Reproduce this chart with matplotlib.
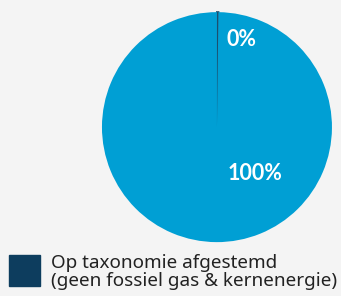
import matplotlib.pyplot as plt
from matplotlib.patches import Rectangle
import numpy as np

categories = ["Op taxonomie afgestemd (geen fossiel gas & kernenergie)", "Niet op taxonomie afgestemd"]
values = [0.2, 99.8]
colors = ["#0d3d5e", "#009fd4"]
legend_label = "Op taxonomie afgestemd\n(geen fossiel gas & kernenergie)"
bg = "#f4f4f4"

fig = plt.figure(figsize=(3.41, 2.96), dpi=100, facecolor=bg)
ax = fig.add_axes([0.299, 0.182, 0.6745, 0.777])
ax.set_facecolor(bg)

wedges, _ = ax.pie(values, colors=colors, startangle=90, counterclock=False,
                   radius=1.0, wedgeprops=dict(linewidth=0))
wedges[0].set_edgecolor("#1d4f6e")
wedges[0].set_linewidth(1.4)
ax.set_xlim(-1, 1)
ax.set_ylim(-1, 1)
ax.set_aspect("equal")
ax.axis("off")

# value labels
label_pos = [(0.21, 0.76), (0.33, -0.40)]
for v, (x, y) in zip(values, label_pos):
    ax.text(x, y, f"{round(v):.0f}%", color="white", fontsize=15.5, fontweight="bold",
            family="Lato", ha="center", va="center")

# legend
fig.patches.append(Rectangle((9 / 341, 1 - 286 / 296), 31 / 341, 31 / 296,
                             transform=fig.transFigure, color=colors[0]))
fig.text(51 / 341, 1 - 272 / 296, legend_label, fontsize=13.6, family="Noto Sans",
         color="#222222", ha="left", va="center", linespacing=1.05)

fig.savefig("out.png", dpi=100, facecolor=bg)
